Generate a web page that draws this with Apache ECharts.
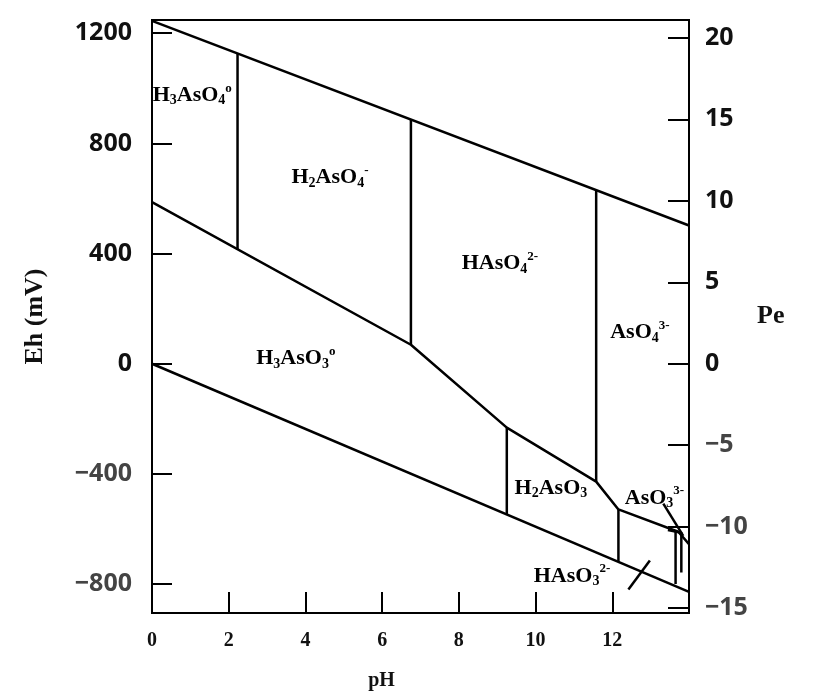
<!DOCTYPE html>
<html><head><meta charset="utf-8">
<script src="https://cdn.jsdelivr.net/npm/echarts@6/dist/echarts.min.js"></script>
<style>html,body{margin:0;padding:0;background:#fff}#c{width:828px;height:697px}</style>
</head><body><div id="c"></div><script>
// ---- tick labels ----
const pHTicks = [0, 2, 4, 6, 8, 10, 12];
const ehTicks = [-800, -400, 0, 400, 800, 1200];
const peTicks = [-15, -10, -5, 0, 5, 10, 15, 20];
const ehMin = -905, ehMax = 1248;
const mvPerPe = 59.16;

// ---- boundary lines [pH, Eh mV] ----
const upperWater = [[0, 1245], [14, 502]];
const lowerWater = [[0, 0], [14, -828]];
const redoxBoundary = [[0, 587], [6.75, 69], [9.25, -232], [11.58, -428], [12.16, -529], [13.72, -610], [14, -655]];
const vH3AsO4 = [[2.23, 1126], [2.23, 415]];
const vH2AsO4 = [[6.75, 887], [6.75, 69]];
const vHAsO4 = [[11.58, 630], [11.58, -428]];
const vH3AsO3 = [[9.25, -232], [9.25, -547]];
const vH2AsO3 = [[12.16, -529], [12.16, -719]];
const vSmall1 = [[13.65, -606], [13.65, -800]];
const vSmall2 = [[13.8, -612], [13.8, -758]];
const hSmall = [[13.45, -604], [13.8, -614]];
const leaderAsO3 = [[13.33, -508], [13.85, -625]];
const leaderHAsO3 = [[12.42, -820], [12.98, -714]];

// ---- species labels ----
const speciesText = [
  'H{sub|3}AsO{sub|4}{sup|o}',
  'H{sub|2}AsO{sub|4}{sup|-}',
  'HAsO{sub|4}{sup|2-}',
  'AsO{sub|4}{sup|3-}',
  'H{sub|3}AsO{sub|3}{sup|o}',
  'H{sub|2}AsO{sub|3}',
  'AsO{sub|3}{sup|3-}',
  'HAsO{sub|3}{sup|2-}'
];
const speciesPH = [1.05, 4.64, 9.07, 12.72, 3.75, 10.4, 13.1, 10.95];
const speciesEh = [975, 676, 364, 113, 18, -451, -487, -771];

const lineSets = [upperWater, lowerWater, redoxBoundary, vH3AsO4, vH2AsO4, vHAsO4, vH3AsO3, vH2AsO3,
  vSmall1, vSmall2, hSmall, leaderAsO3, leaderHAsO3];

const serif = "'Liberation Serif', 'Times New Roman', serif";
const sans = "'Open Sans', 'Liberation Sans', sans-serif";

const tickRich = {
  p: { color: '#111', fontSize: 25, fontWeight: 'bold', fontFamily: sans },
  n: { color: '#444', fontSize: 25, fontWeight: 'bold', fontFamily: sans }
};
const fmtTick = v => v < 0 ? '{n|\u2212' + Math.abs(v) + '}' : '{p|' + v + '}';

const series = lineSets.map(d => ({
  type: 'line', data: d, symbol: 'none', silent: true,
  lineStyle: { color: '#000', width: 2.5 }, z: 3
}));
series.push({
  type: 'scatter', symbolSize: 0, silent: true, z: 4,
  itemStyle: { opacity: 1 },
  data: speciesText.map((t, i) => ({ value: [speciesPH[i], speciesEh[i]], label: { formatter: t } })),
  label: {
    show: true, position: 'inside', color: '#000',
    fontFamily: serif, fontWeight: 'bold', fontSize: 22,
    rich: {
      sub: { fontFamily: serif, fontWeight: 'bold', fontSize: 14, padding: [11, 0, 0, 0], color: '#000' },
      sup: { fontFamily: serif, fontWeight: 'bold', fontSize: 13, padding: [0, 0, 14, 0], color: '#000' }
    }
  }
});

const chart = echarts.init(document.getElementById('c'), null, { renderer: 'canvas' });
chart.setOption({
  animation: false,
  backgroundColor: '#fff',
  grid: { left: 152, top: 20, width: 537, height: 593, show: true, borderColor: '#000', borderWidth: 2, backgroundColor: 'transparent' },
  xAxis: {
    type: 'value', min: 0, max: 14, interval: 2,
    name: 'pH', nameLocation: 'middle', nameGap: 58,
    nameTextStyle: { fontFamily: serif, fontWeight: 'bold', fontSize: 20, color: '#111', padding: [0, 78, 0, 0] },
    axisLine: { show: true, onZero: false, lineStyle: { color: '#000', width: 2 } },
    axisTick: { show: true, inside: true, length: 21, lineStyle: { color: '#000', width: 2 } },
    axisLabel: { margin: 18, fontFamily: serif, fontWeight: 'bold', fontSize: 20, color: '#111',
      formatter: v => pHTicks.includes(v) ? String(v) : '' },
    splitLine: { show: false }
  },
  yAxis: [{
    type: 'value', min: ehMin, max: ehMax, position: 'left',
    name: 'Eh (mV)', nameLocation: 'middle', nameRotate: 90, nameGap: 104,
    nameTextStyle: { fontFamily: serif, fontWeight: 'bold', fontSize: 26, color: '#111' },
    axisLine: { show: true, onZero: false, lineStyle: { color: '#000', width: 2 } },
    axisTick: { show: true, inside: true, length: 20, customValues: ehTicks, lineStyle: { color: '#000', width: 2 } },
    axisLabel: { margin: 20, customValues: ehTicks, formatter: fmtTick, rich: tickRich },
    splitLine: { show: false }
  }, {
    type: 'value', min: ehMin / mvPerPe, max: ehMax / mvPerPe, position: 'right',
    name: 'Pe', nameLocation: 'middle', nameRotate: 0, nameGap: 68,
    nameTextStyle: { fontFamily: serif, fontWeight: 'bold', fontSize: 26, color: '#111', padding: [94, 0, 0, 0] },
    axisLine: { show: true, onZero: false, lineStyle: { color: '#000', width: 2 } },
    axisTick: { show: true, inside: true, length: 21, customValues: peTicks, lineStyle: { color: '#000', width: 2 } },
    axisLabel: { margin: 16, customValues: peTicks, formatter: fmtTick, rich: tickRich },
    splitLine: { show: false }
  }],
  series: series
});
</script></body></html>
